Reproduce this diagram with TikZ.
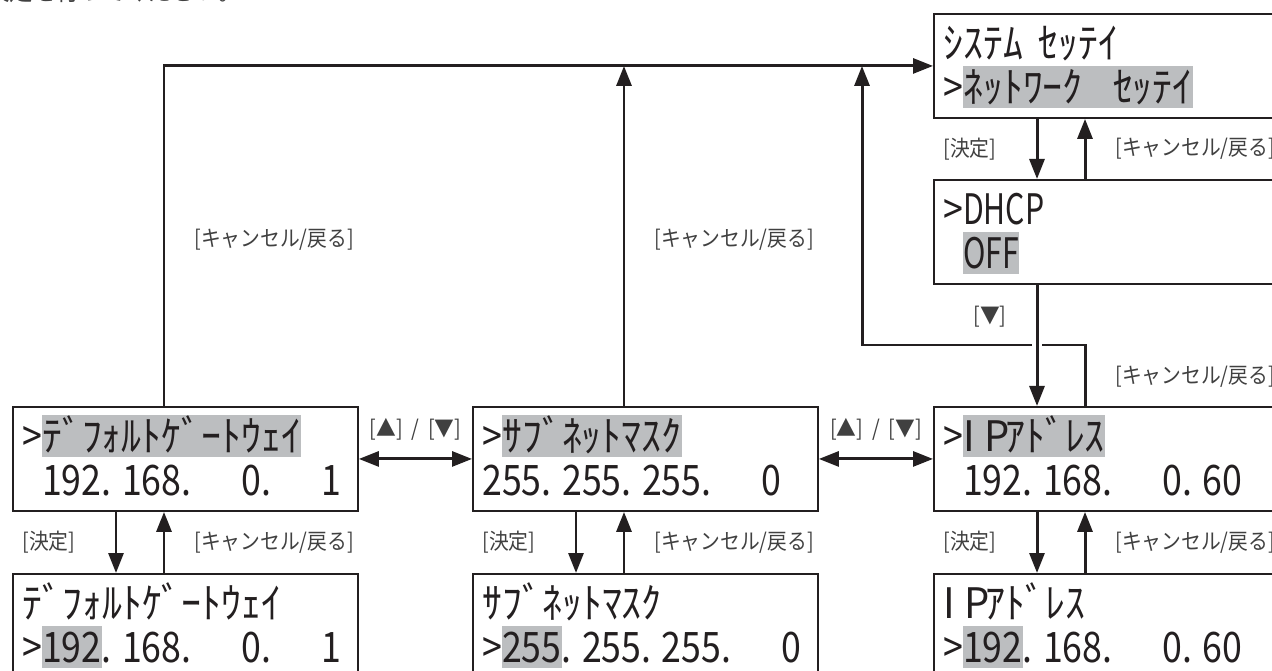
\documentclass[tikz,border=0pt]{standalone}
\usepackage{fontspec}
\setmainfont{Noto Sans CJK JP}[FakeStretch=0.9]
\newfontfamily\lclatin{Noto Sans CJK JP}[FakeStretch=0.72]
\newfontfamily\lcnum{Noto Sans CJK JP}[FakeStretch=0.85]
\newfontfamily\lckanafont{Noto Sans CJK JP}[FakeStretch=0.95]
\usetikzlibrary{arrows.meta}
\usetikzlibrary{calc}
\definecolor{lcink}{HTML}{231F20}
\definecolor{lcmuted}{HTML}{404040}
\definecolor{lcgray}{HTML}{BCBEC0}
% Grey cursor field on the LCD, one fixed LCD cell, kana runs, field gap.
\newcommand{\lcmark}[1]{{\setlength{\fboxsep}{0pt}%
  \colorbox{lcgray}{\rule[-0.12em]{0pt}{1.0em}#1}}}
\newcommand{\lccell}[1]{\makebox[0.5em][l]{#1}}
\newcommand{\lcsp}{\hspace{0.36em}}
\newcommand{\lcgap}{\hspace{0.25em}}
\newcommand{\lckana}[1]{{\lckanafont #1}}
\tikzset{
  lcbox/.style={
    draw=lcink, line width=1.1pt, anchor=north west, inner sep=0pt,
    minimum width=6.9cm, minimum height=2.08cm},
  lctext/.style={
    anchor=base west, inner sep=0pt, text=lcink,
    font=\lcnum\fontsize{23.9pt}{28pt}\selectfont},
  lclabel/.style={
    anchor=west, inner sep=0pt, text=lcmuted,
    font=\fontsize{12.5pt}{15pt}\selectfont},
  lcarrow/.style={-{Triangle[length=0.4cm, width=0.3cm]}, draw=lcink,
    line width=1.7pt},
  lcboth/.style={{Triangle[length=0.4cm, width=0.3cm]}-{Triangle[length=0.4cm,
    width=0.3cm]}, draw=lcink, line width=1.7pt},
  lcline/.style={draw=lcink, line width=1.7pt},
  lchop/.style={draw=white, line width=5.7pt},
}

\begin{document}
\begin{tikzpicture}[x=0.02cm, y=-0.02cm]
\useasboundingbox (0,0) rectangle (1272,671);

% Sentence cut off by the top edge.
\node[lclabel, anchor=base west, font=\fontsize{14.8pt}{17pt}\selectfont]
  (intro) at (-14,1) {設定を行ってください。};

% LCD screens.
\node[lcbox] (sys) at (933,13) {};
\node[lcbox] (dhcp) at (933,179) {};
\node[lcbox] (gw) at (12,406) {};
\node[lcbox] (sub) at (472,406) {};
\node[lcbox] (ip) at (933,406) {};
\node[lcbox] (gwedit) at (12,573) {};
\node[lcbox] (subedit) at (472,573) {};
\node[lcbox] (ipedit) at (933,573) {};

% Two text rows per screen.
\foreach \lcd/\lineA/\lineB in {
  sys/{\lckana{ｼｽﾃﾑ\lcsp ｾｯﾃｲ}}/{>\lcmark{\lckana{ﾈｯﾄﾜｰｸ\lcsp\lcsp ｾｯﾃｲ}}},
  dhcp/{>{\lclatin DHCP}}/{\phantom{>}\lcmark{\lclatin OFF}},
  gw/{>\lcmark{\lckana{ﾃﾞﾌｫﾙﾄｹﾞｰﾄｳｪｲ}}}/{\phantom{>}192.\lcgap 168.\lcgap\phantom{00}0.\lcgap\phantom{00}1},
  sub/{>\lcmark{\lckana{ｻﾌﾞﾈｯﾄﾏｽｸ}}}/{255.\lcgap 255.\lcgap 255.\lcgap\phantom{00}0},
  ip/{>\lcmark{\lckana{\lccell{I}\lccell{P}ｱﾄﾞﾚｽ}}}/{\phantom{>}192.\lcgap 168.\lcgap\phantom{00}0.\lcgap 60},
  gwedit/{\lckana{ﾃﾞﾌｫﾙﾄｹﾞｰﾄｳｪｲ}}/{>\lcmark{192}.\lcgap 168.\lcgap\phantom{00}0.\lcgap\phantom{00}1},
  subedit/{\lckana{ｻﾌﾞﾈｯﾄﾏｽｸ}}/{>\lcmark{255}.\lcgap 255.\lcgap 255.\lcgap\phantom{00}0},
  ipedit/{\lckana{\lccell{I}\lccell{P}ｱﾄﾞﾚｽ}}/{>\lcmark{192}.\lcgap 168.\lcgap\phantom{00}0.\lcgap 60}} {
  \node[lctext] (\lcd-a) at ($(\lcd.north west)+(10,46)$) {\lineA};
  \node[lctext] (\lcd-b) at ($(\lcd.north west)+(10,90)$) {\lineB};
}

% Return path from the IP screen, drawn first so the DHCP arrow hops it.
\coordinate (merge) at ($(sys.west)+(-71,0)$);
\draw[lcarrow] ($(ip.north west)+(152,0)$) -- ++(0,-61) -| (merge);
\draw[lchop] ($(dhcp.south west)+(104,54)$) -- ++(0,16);

% Enter / cancel pairs between a screen and the one below it.
\foreach \upper/\lower in {sys/dhcp, gw/gwedit, sub/subedit, ip/ipedit} {
  \draw[lcarrow] ($(\upper.south west)+(104,0)$)
    -- ($(\lower.north west)+(104,0)$);
  \draw[lcarrow] ($(\lower.north west)+(152,0)$)
    -- ($(\upper.south west)+(152,0)$);
  \node[lclabel] at ($(\upper.south west)!0.5!(\lower.north west)+(10,0)$)
    {[決定]};
  \node[lclabel] at ($(\upper.south west)!0.5!(\lower.north west)+(182,0)$)
    {[キャンセル/戻る]};
}
\draw[lcarrow] ($(dhcp.south west)+(104,0)$) -- ($(ip.north west)+(104,0)$);
\node[lclabel, anchor=east] at ($(dhcp.south west)+(74,32)$) {[▼]};
\node[lclabel] at ($(ip.north west)+(182,-29)$) {[キャンセル/戻る]};

% Up / down between the setting screens.
\draw[lcboth] (gw.east) -- (sub.west);
\draw[lcboth] (sub.east) -- (ip.west);
\node[lclabel, anchor=center] at ($(gw.east)!0.5!(sub.west)+(0,-30)$)
  {[▲]\hspace{0.4em}/\hspace{0.4em}[▼]};
\node[lclabel, anchor=center] at ($(sub.east)!0.5!(ip.west)+(0,-30)$)
  {[▲]\hspace{0.4em}/\hspace{0.4em}[▼]};

% Cancel from the lower row back to the system menu.
\coordinate (subtop) at ($(sub.north west)+(152,0)$);
\draw[lcline] ($(gw.north west)+(152,0)$) |- (merge);
\draw[lcarrow] (merge) -- (sys.west);
\draw[lcarrow] (subtop) -- (subtop |- merge);
\node[lclabel] at ($(gw.north west)+(182,-166)$) {[キャンセル/戻る]};
\node[lclabel] at ($(sub.north west)+(182,-166)$) {[キャンセル/戻る]};

\end{tikzpicture}
\end{document}
